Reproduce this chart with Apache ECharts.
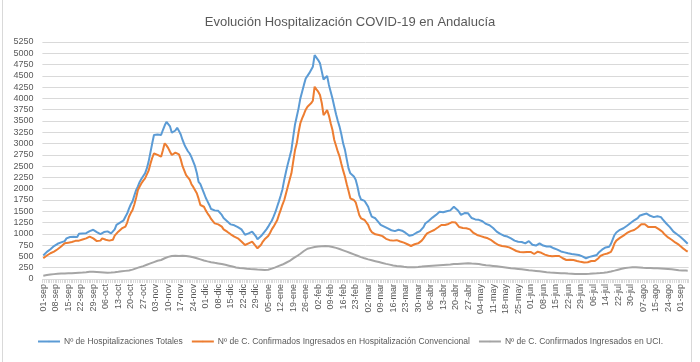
<!DOCTYPE html>
<html><head><meta charset="utf-8">
<script src="https://cdn.jsdelivr.net/npm/echarts@6/dist/echarts.min.js"></script>
<style>html,body{margin:0;padding:0;background:#fff}#c{width:700px;height:362px}</style>
</head><body><div id="c"></div>
<script>
const tickLabels = ["01-sep","08-sep","15-sep","22-sep","29-sep","06-oct","13-oct","20-oct","27-oct","03-nov","10-nov","17-nov","24-nov","01-dic","08-dic","15-dic","22-dic","29-dic","05-ene","12-ene","19-ene","26-ene","02-feb","09-feb","16-feb","23-feb","02-mar","09-mar","16-mar","23-mar","30-mar","06-abr","13-abr","20-abr","27-abr","04-may","11-may","18-may","25-may","01-jun","08-jun","15-jun","22-jun","29-jun","06-jul","14-jul","22-jul","30-jul","07-ago","15-ago","24-ago","01-sep"];
const seriesNames = ["Nº de Hospitalizaciones Totales","Nº de C. Confirmados Ingresados en Hospitalización Convencional","Nº de C. Confirmados Ingresados en UCI."];
const totales = [
520,560,600,640,660,700,730, 760,780,800,810,820,840,900, 925,930,930,935,940,930,1000,
1010,1010,1020,1015,1030,1060,1100, 1090,1060,1040,1010,995,985,1040, 1070,1055,1030,1010,995,1100,1200,
1230,1250,1270,1300,1380,1450,1560, 1650,1720,1850,1970,2050,2150,2220, 2280,2340,2450,2600,2800,3000,3190,
3230,3200,3170,3190,3300,3400,3480, 3440,3380,3240,3210,3290,3350,3280, 3200,3080,2980,2900,2830,2780,2700,
2600,2500,2350,2150,2100,2000,1900, 1800,1720,1640,1550,1530,1520,1515, 1510,1470,1420,1350,1320,1280,1240,
1210,1200,1190,1170,1150,1130,1100, 1040,980,990,1010,1030,1050,1020, 950,880,900,950,1000,1050,1100,
1160,1230,1290,1380,1480,1600,1720, 1850,1990,2200,2380,2550,2700,2860, 3150,3420,3600,3780,4000,4150,4300,
4440,4500,4560,4600,4700,4960,4930, 4850,4780,4600,4420,4450,4500,4300, 4150,4000,3820,3650,3500,3370,3200,
3000,2860,2650,2450,2340,2300,2270, 2200,2050,1860,1760,1750,1730,1710, 1600,1480,1380,1360,1345,1320,1250,
1200,1190,1160,1130,1120,1100,1080, 1050,1060,1080,1090,1075,1070,1050, 1020,990,960,950,975,1000,1025,
1025,1060,1100,1150,1230,1260,1290, 1320,1360,1380,1420,1460,1490,1490, 1480,1490,1500,1490,1520,1560,1600,
1570,1530,1480,1420,1440,1460,1450, 1455,1400,1350,1310,1320,1330,1310, 1305,1280,1250,1220,1200,1190,1170,
1130,1090,1050,1040,1000,980,960, 950,940,920,900,880,850,830, 825,815,820,800,790,820,840,
810,760,730,740,770,790,760, 740,730,720,715,720,700,680, 670,650,630,610,605,590,575,
570,560,555,550,545,540,532, 520,500,480,460,470,490,500, 510,505,530,580,620,650,680,
700,710,716,780,880,975,1030, 1060,1090,1110,1125,1150,1180,1210, 1240,1270,1300,1320,1350,1400,1420,
1430,1470,1450,1420,1400,1395,1370, 1380,1390,1395,1370,1320,1280,1230, 1190,1150,1100,1050,1020,990,950,
930,900,860,820,780];
const convencional = [
458,490,520,550,570,590,605, 630,660,690,720,760,790,800, 805,810,820,830,845,849,850,
860,875,890,900,915,937,930, 900,870,840,826,850,901,880, 870,860,850,849,870,960,1000,
1048,1080,1120,1150,1160,1250,1380, 1460,1528,1650,1800,1971,2050,2120, 2180,2230,2267,2400,2550,2680,2784,
2790,2750,2720,2709,2850,3006,2960, 2900,2820,2747,2760,2800,2820,2760, 2650,2500,2400,2300,2267,2200,2100,
2040,2009,1900,1780,1639,1676,1600, 1520,1455,1400,1330,1280,1233,1220, 1210,1196,1160,1100,1080,1048,1020,
990,960,937,920,900,870,830, 790,753,770,790,810,826,800, 730,680,700,760,830,880,901,
950,1020,1100,1160,1196,1300,1420, 1530,1650,1750,1900,2050,2200,2341, 2600,2850,3006,3250,3450,3559,3650,
3750,3817,3850,3891,3950,4260,4200, 4150,4076,3900,3633,3680,3743,3620, 3450,3300,3079,2950,2820,2709,2550,
2400,2267,2100,1950,1787,1760,1750, 1700,1560,1418,1344,1320,1307,1290, 1200,1100,1040,1012,990,980,975,
975,950,920,890,864,860,855, 850,849,860,849,830,815,805, 790,770,750,731,750,770,790,
790,800,850,900,960,1012,1030, 1050,1070,1085,1110,1140,1170,1196, 1190,1196,1210,1220,1240,1260,1285,
1250,1200,1150,1123,1130,1140,1125, 1123,1100,1060,1020,990,975,960, 950,940,925,910,901,890,860,
830,800,770,753,740,730,725, 720,716,700,680,660,640,620, 605,600,610,590,569,600,627,
600,570,554,570,605,600,580, 560,540,525,515,509,505,510, 512,510,509,490,460,440,421,
420,425,430,421,410,400,390, 380,370,365,362,370,385,400, 406,400,420,460,509,530,545,
555,565,569,600,680,790,850, 880,910,937,960,990,1020,1048, 1060,1070,1085,1100,1140,1180,1211,
1220,1211,1180,1150,1123,1150,1174, 1150,1120,1100,1085,1040,990,950, 920,901,870,840,810,790,760,
720,690,660,630,605];
const uci = [
74,80,88,95,100,105,108, 112,115,118,120,122,124,125, 127,128,130,132,134,136,138,
140,142,145,150,155,160,162, 160,158,155,152,150,148,145, 142,140,142,145,148,152,156,
160,165,170,175,180,184,190, 198,208,220,235,250,262,273, 285,300,315,330,345,360,375,
390,405,415,421,440,460,475, 490,500,510,517,515,512,510, 512,515,510,509,505,498,490,
480,470,460,448,435,421,410, 400,390,380,372,365,358,350, 345,338,330,322,315,305,295,
285,275,265,255,248,242,238, 236,232,228,225,222,220,218, 215,212,210,207,205,202,200,
205,215,230,245,258,273,290, 305,320,340,360,380,400,420, 458,480,505,530,560,590,620,
650,670,680,690,700,710,715, 720,725,728,731,731,728,725, 720,710,700,690,680,665,650,
635,620,605,590,575,560,545, 530,515,500,485,470,458,445, 435,425,415,405,395,384,375,
365,355,345,335,325,318,310, 300,292,288,285,280,275,270, 266,262,258,258,260,262,265,
268,272,275,280,284,288,290, 292,295,298,300,303,305,308, 310,312,315,318,320,325,330,
332,335,338,340,342,345,347, 347,345,342,340,338,335,330, 325,318,312,305,303,300,295,
290,285,280,275,270,265,260, 255,250,245,240,236,232,228, 224,220,215,210,205,200,195,
190,186,182,178,174,170,165, 160,155,150,145,142,140,138, 136,134,132,130,128,125,122,
120,118,116,114,112,111,110, 110,111,111,112,113,115,118, 120,122,125,128,132,136,140,
145,150,158,166,175,185,195, 205,215,225,235,242,248,252, 255,258,258,258,257,255,252,
250,248,246,245,244,242,240, 238,236,234,232,230,228,225, 222,218,214,210,205,200,196,
192,190,188,186,184];

const categories = totales.map((_, i) => {
  const k = Math.floor(i / 7), j = i % 7;
  return j === 0 ? tickLabels[k] : tickLabels[k] + '+' + j;
});

const FF = "'Liberation Sans',Arial,sans-serif";
const TXT = '#595959';
const chart = echarts.init(document.getElementById('c'), null, {renderer: 'canvas'});
chart.setOption({
  animation: false,
  backgroundColor: '#fff',
  graphic: [
    {type: 'line', silent: true, shape: {x1: 2.5, y1: 0, x2: 2.5, y2: 362}, style: {stroke: '#d9d9d9', lineWidth: 1}},
    {type: 'line', silent: true, shape: {x1: 691.5, y1: 0, x2: 691.5, y2: 362}, style: {stroke: '#d9d9d9', lineWidth: 1}}
  ],
  title: {
    text: 'Evolución Hospitalización COVID-19 en Andalucía',
    left: 'center', top: 11,
    textStyle: {fontFamily: FF, fontSize: 13, fontWeight: 'normal', color: TXT}
  },
  legend: {
    top: 332, left: 'center',
    itemWidth: 22, itemHeight: 2, itemGap: 8,
    textStyle: {fontFamily: FF, fontSize: 8.5, color: TXT, padding: [0, 0, 0, -1]},
    data: seriesNames
  },
  grid: {left: 42.4, right: 11.4, top: 42, bottom: 83, containLabel: false},
  xAxis: {
    type: 'category', data: categories, boundaryGap: true,
    axisLine: {lineStyle: {color: '#d9d9d9', width: 1}},
    axisTick: {show: true, interval: 0, length: 4, lineStyle: {color: '#d9d9d9'}},
    axisLabel: {interval: 6, rotate: 90, fontFamily: FF, fontSize: 9, color: TXT, margin: 5}
  },
  yAxis: {
    type: 'value', min: 0, max: 5250, interval: 250,
    axisLine: {show: false}, axisTick: {show: false},
    axisLabel: {fontFamily: FF, fontSize: 9, color: TXT, margin: 9, formatter: v => String(v)},
    splitLine: {lineStyle: {color: '#d9d9d9', width: 1}}
  },
  series: [
    {name: seriesNames[0], type: 'line', data: totales, symbol: 'none', lineStyle: {width: 2, color: '#5B9BD5'}, itemStyle: {color: '#5B9BD5'}},
    {name: seriesNames[1], type: 'line', data: convencional, symbol: 'none', lineStyle: {width: 2, color: '#ED7D31'}, itemStyle: {color: '#ED7D31'}},
    {name: seriesNames[2], type: 'line', data: uci, symbol: 'none', lineStyle: {width: 2, color: '#A5A5A5'}, itemStyle: {color: '#A5A5A5'}}
  ]
});
</script></body></html>
